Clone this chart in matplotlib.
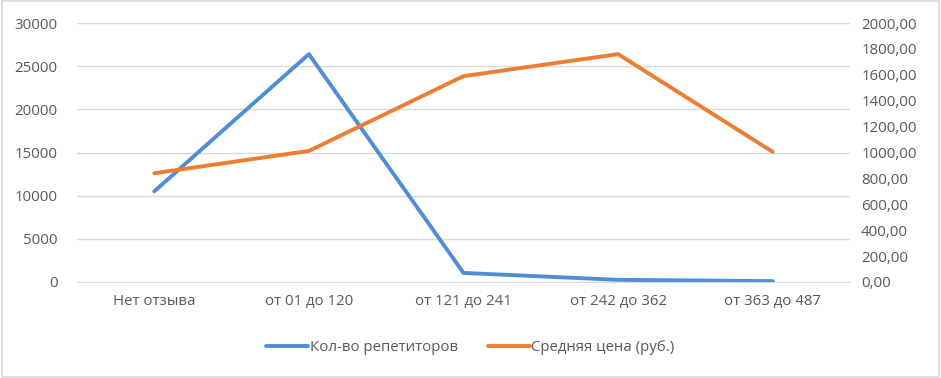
import matplotlib.pyplot as plt
from matplotlib.patches import Rectangle
from matplotlib.ticker import FuncFormatter

plt.rcParams['font.family'] = ['Open Sans', 'DejaVu Sans']

categories = ["Нет отзыва", "от 01 до 120", "от 121 до 241", "от 242 до 362", "от 363 до 487"]
tutors = [10500, 26400, 1050, 250, 100]
avg_price = [840, 1012, 1590, 1760, 1005]

BLUE = "#4F8ED2"
ORANGE = "#ED7D31"
TXT = "#595959"

fig = plt.figure(figsize=(9.41, 3.78), dpi=100)
fig.patches.append(Rectangle((0.002, 0.003), 0.996, 0.994, transform=fig.transFigure,
                             fill=False, edgecolor="#D9D9D9", linewidth=1.2))
ax = fig.add_axes([0.0818, 0.254, 0.8215, 0.685])
ax2 = ax.twinx()

x = range(len(categories))
l1, = ax.plot(x, tutors, color=BLUE, linewidth=2.8, solid_capstyle="round",
              label="Кол-во репетиторов", zorder=3)
l2, = ax2.plot(x, avg_price, color=ORANGE, linewidth=2.8, solid_capstyle="round",
               label="Средняя цена (руб.)", zorder=3)

ax.set_xlim(-0.5, len(categories) - 0.5)
ax.set_ylim(0, 30000)
ax.set_yticks(range(0, 30001, 5000))
ax2.set_ylim(0, 2000)
ax2.set_yticks(range(0, 2001, 200))
ax2.yaxis.set_major_formatter(FuncFormatter(lambda v, p: f"{v:.2f}".replace(".", ",")))
ax.set_xticks(list(x))
ax.set_xticklabels(categories)

ax.grid(axis="y", color="#D9D9D9", linewidth=1.0)
ax.set_axisbelow(True)
for a in (ax, ax2):
    for s in a.spines.values():
        s.set_visible(False)
    a.tick_params(length=0, colors=TXT, labelsize=10.8)
ax.spines["bottom"].set_visible(True)
ax.spines["bottom"].set_color("#D9D9D9")
ax.tick_params(axis="x", pad=9)
ax.tick_params(axis="y", pad=14)
ax2.tick_params(axis="y", pad=8)

fig.legend(handles=[l1, l2], loc="center", bbox_to_anchor=(0.5, 0.08), ncol=2,
           frameon=False, fontsize=10.8, labelcolor=TXT, handlelength=2.8,
           handletextpad=0.1, columnspacing=2.0)

fig.savefig("out.png", dpi=100)
